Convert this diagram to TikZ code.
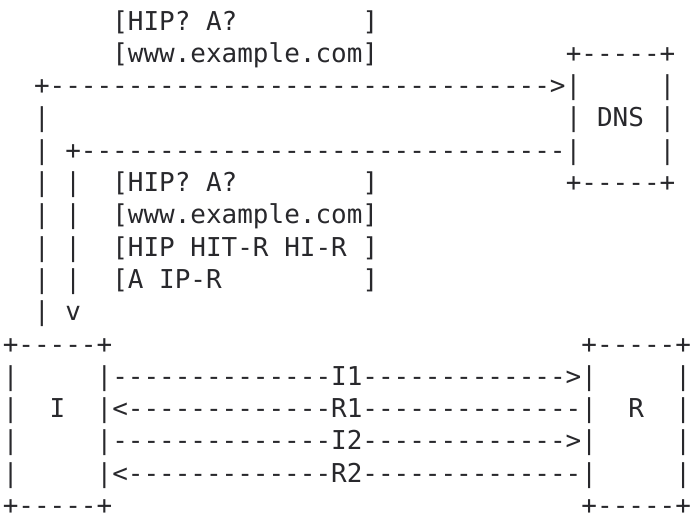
\documentclass[tikz,border=0pt]{standalone}
\usepackage{fontspec}
\setmonofont{DejaVu Sans Mono}
\definecolor{ink}{RGB}{40,40,44}
\newcommand\cw{15.64pt}
\newcommand\lp{32.3pt}
\newcommand\tx[4]{\node[txt] (#1) at ({2.8pt+#3*\cw},{-30pt-(#2-1)*\lp}) {#4};}
\begin{document}
\begin{tikzpicture}[txt/.style={anchor=base west,inner sep=0pt,outer sep=0pt,text=ink,font=\ttfamily\fontsize{25.97}{32.5}\selectfont}]
\useasboundingbox (0,0) rectangle (691pt,-515pt);
% row 1
\tx{q1a}{1}{7}{[HIP? A?}
\tx{q1b}{1}{23}{]}
% row 2
\tx{q2a}{2}{7}{[www.example.com]}
\tx{dnsT}{2}{36}{+-----+}
% row 3
\tx{req}{3}{2}{+-------------------------------->|}
\tx{dns3}{3}{42}{|}
% row 4
\tx{up4}{4}{2}{|}
\tx{dns}{4}{36}{| DNS |}
% row 5
\tx{resp}{5}{2}{| +-------------------------------|}
\tx{dns5}{5}{42}{|}
% row 6
\tx{v6}{6}{2}{| |}
\tx{a6}{6}{7}{[HIP? A?}
\tx{b6}{6}{23}{]}
\tx{dnsB}{6}{36}{+-----+}
% row 7
\tx{v7}{7}{2}{| |}
\tx{a7}{7}{7}{[www.example.com]}
% row 8
\tx{v8}{8}{2}{| |}
\tx{a8}{8}{7}{[HIP HIT-R HI-R}
\tx{b8}{8}{23}{]}
% row 9
\tx{v9}{9}{2}{| |}
\tx{a9}{9}{7}{[A IP-R}
\tx{b9}{9}{23}{]}
% row 10
\tx{v10}{10}{2}{| v}
% row 11
\tx{iT}{11}{0}{+-----+}
\tx{rT}{11}{37}{+-----+}
% row 12
\tx{i12}{12}{0}{|}
\tx{m1}{12}{6}{|--------------I1------------->|}
\tx{r12}{12}{43}{|}
% row 13
\tx{i13}{13}{0}{|}
\tx{iL}{13}{3}{I}
\tx{m2}{13}{6}{|<-------------R1--------------|}
\tx{rL}{13}{40}{R}
\tx{r13}{13}{43}{|}
% row 14
\tx{i14}{14}{0}{|}
\tx{m3}{14}{6}{|--------------I2------------->|}
\tx{r14}{14}{43}{|}
% row 15
\tx{i15}{15}{0}{|}
\tx{m4}{15}{6}{|<-------------R2--------------|}
\tx{r15}{15}{43}{|}
% row 16
\tx{iB}{16}{0}{+-----+}
\tx{rB}{16}{37}{+-----+}
\end{tikzpicture}
\end{document}
